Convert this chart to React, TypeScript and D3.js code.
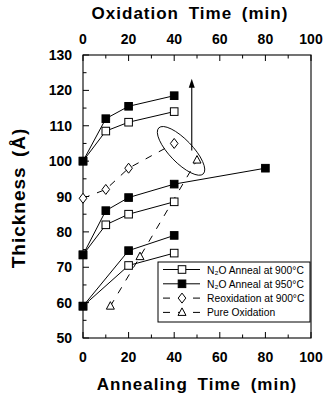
import * as d3 from "d3";

// annealing time (min) vs thickness (Å), one branch per starting oxide
const anneal900 = [
  [[0, 100], [10, 108.5], [20, 111], [40, 114]],
  [[0, 73.5], [10, 82], [20, 85], [40, 88.5]],
  [[0, 59], [20, 70.5], [40, 74]],
];
const anneal950 = [
  [[0, 100], [10, 112], [20, 115.5], [40, 118.5]],
  [[0, 73.5], [10, 86], [20, 89.7], [40, 93.5], [80, 98]],
  [[0, 59], [20, 74.7], [40, 79]],
];
const reox900 = [[0, 89.5], [10, 92], [20, 98], [40, 105]];
const pureOx = [[12, 59], [25, 73], [50, 100.3]];

const xTicks = [0, 20, 40, 60, 80, 100];
const xMinor = [10, 30, 50, 70, 90];
const yTicks = [50, 60, 70, 80, 90, 100, 110, 120, 130];
const yMinor = [55, 65, 75, 85, 95, 105, 115, 125];

const legendItems = [
  { label: "N₂O Anneal at 900°C", marker: "openSq", dash: false },
  { label: "N₂O Anneal at 950°C", marker: "fillSq", dash: false },
  { label: "Reoxidation at 900°C", marker: "diamond", dash: true },
  { label: "Pure Oxidation", marker: "triangle", dash: true },
];

const W = 325;
const H = 396;
const L = 83, R = 311, T = 55, B = 338;
const font = "'Liberation Sans', Arial, sans-serif";

function Marker({ type, x, y }: { type: string; x: number; y: number }) {
  if (type === "openSq" || type === "fillSq")
    return (
      <rect x={x - 3.8} y={y - 3.8} width={7.6} height={7.6}
        fill={type === "fillSq" ? "#000" : "#fff"} stroke="#000" strokeWidth={1} />
    );
  if (type === "diamond")
    return (
      <path d={`M${x},${y - 5}L${x + 3.8},${y}L${x},${y + 5}L${x - 3.8},${y}Z`}
        fill="#fff" stroke="#000" strokeWidth={1} />
    );
  return (
    <path d={`M${x},${y - 4.5}L${x + 4},${y + 3}L${x - 4},${y + 3}Z`}
      fill="#fff" stroke="#000" strokeWidth={1} />
  );
}

export default function App() {
  const x = d3.scaleLinear().domain([0, 100]).range([L, R]);
  const y = d3.scaleLinear().domain([50, 130]).range([B, T]);
  const line = d3.line<number[]>().x((d) => x(d[0])).y((d) => y(d[1]));

  return (
    <svg width={W} height={H} style={{ position: "absolute", left: 0, top: 0, background: "#fff" }}
      fontFamily={font}>
      <rect x={L} y={T} width={R - L} height={B - T} fill="none" stroke="#000" strokeWidth={1.1} />

      {/* ticks */}
      {xTicks.map((t) => (
        <g key={"xt" + t}>
          <line x1={x(t)} x2={x(t)} y1={B} y2={B - 6} stroke="#000" />
          <line x1={x(t)} x2={x(t)} y1={T} y2={T + 6} stroke="#000" />
          <text x={x(t)} y={362} textAnchor="middle" fontSize={14} fontWeight="bold">{t}</text>
          <text x={x(t)} y={44} textAnchor="middle" fontSize={14} fontWeight="bold">{t}</text>
        </g>
      ))}
      {xMinor.map((t) => (
        <g key={"xm" + t}>
          <line x1={x(t)} x2={x(t)} y1={B} y2={B - 3.5} stroke="#000" />
          <line x1={x(t)} x2={x(t)} y1={T} y2={T + 3.5} stroke="#000" />
        </g>
      ))}
      {yTicks.map((t) => (
        <g key={"yt" + t}>
          <line x1={L} x2={L + 6} y1={y(t)} y2={y(t)} stroke="#000" />
          <text x={72} y={y(t) + 5} textAnchor="end" fontSize={14} fontWeight="bold">{t}</text>
        </g>
      ))}
      {yMinor.map((t) => (
        <line key={"ym" + t} x1={L} x2={L + 3.5} y1={y(t)} y2={y(t)} stroke="#000" />
      ))}

      {/* axis titles */}
      <text x={190} y={19} textAnchor="middle" fontSize={17} fontWeight="bold" letterSpacing={1}
        wordSpacing={4}>
        Oxidation Time (min)
      </text>
      <text x={197} y={390} textAnchor="middle" fontSize={17} fontWeight="bold" letterSpacing={1}
        wordSpacing={4}>
        Annealing Time (min)
      </text>
      <text transform="translate(25,198) rotate(-90)" textAnchor="middle" fontSize={19}
        fontWeight="bold" letterSpacing={1} wordSpacing={3}>
        Thickness (Å)
      </text>

      {/* series lines */}
      {anneal900.map((s, i) => (
        <path key={"l9" + i} d={line(s) ?? ""} fill="none" stroke="#000" strokeWidth={1} />
      ))}
      {anneal950.map((s, i) => (
        <path key={"l5" + i} d={line(s) ?? ""} fill="none" stroke="#000" strokeWidth={1} />
      ))}
      <path d={line(reox900) ?? ""} fill="none" stroke="#000" strokeWidth={1} strokeDasharray="7,8" />
      <path d={line(pureOx) ?? ""} fill="none" stroke="#000" strokeWidth={1} strokeDasharray="7,8" />

      {/* markers */}
      {anneal900.flat().map((d, i) => (
        <Marker key={"m9" + i} type="openSq" x={x(d[0])} y={y(d[1])} />
      ))}
      {anneal950.flat().map((d, i) => (
        <Marker key={"m5" + i} type="fillSq" x={x(d[0])} y={y(d[1])} />
      ))}
      {reox900.map((d, i) => (
        <Marker key={"md" + i} type="diamond" x={x(d[0])} y={y(d[1])} />
      ))}
      {pureOx.map((d, i) => (
        <Marker key={"mt" + i} type="triangle" x={x(d[0])} y={y(d[1])} />
      ))}

      {/* annotation: ellipse and arrow */}
      <ellipse cx={x(43)} cy={y(102.9)} rx={32} ry={11.5} fill="none" stroke="#000" strokeWidth={0.9}
        transform={`rotate(46,${x(43)},${y(102.9)})`} />
      <line x1={x(47.7)} x2={x(47.7)} y1={y(103)} y2={y(121)} stroke="#000" strokeWidth={1.1} />
      <path d={`M${x(47.7)},${y(123.3)}l-3,9l6,0Z`} fill="#000" />

      {/* legend */}
      <rect x={158} y={262} width={152} height={60} fill="#fff" stroke="#000" strokeWidth={1} />
      {legendItems.map((it, i) => {
        const ly = 269.5 + i * 14.3;
        return (
          <g key={"lg" + i}>
            <line x1={163} x2={200} y1={ly} y2={ly} stroke="#000" strokeWidth={1}
              strokeDasharray={it.dash ? "7,8" : undefined} />
            <Marker type={it.marker} x={182} y={ly} />
            <text x={207} y={ly + 4} fontSize={10.3}>{it.label}</text>
          </g>
        );
      })}
    </svg>
  );
}
